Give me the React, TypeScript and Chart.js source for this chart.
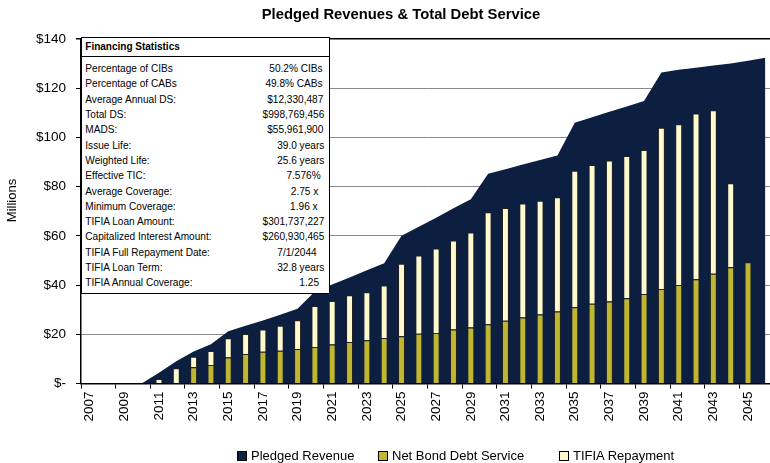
import React, { useEffect, useRef } from 'react';
import { Chart, registerables } from 'chart.js';

Chart.register(...registerables);

const FONT = "'Liberation Sans', Arial, Helvetica, sans-serif";
const NAVY = '#0c1f40';
const OLIVE = '#bfb732';
const CREAM = '#fefacd';
const EDGE = '#222222';

const years = [
  '2007', '2008', '2009', '2010', '2011', '2012', '2013', '2014', '2015', '2016',
  '2017', '2018', '2019', '2020', '2021', '2022', '2023', '2024', '2025', '2026',
  '2027', '2028', '2029', '2030', '2031', '2032', '2033', '2034', '2035', '2036',
  '2037', '2038', '2039', '2040', '2041', '2042', '2043', '2044', '2045', '2046',
];

const pledgedRevenue = [
  0, 0, 0, 0, 4.4, 9.0, 13.0, 15.9, 21.2, 23.5,
  25.6, 27.9, 30.4, 37.4, 40.2, 43.1, 46.0, 48.9, 60.0, 63.7,
  67.4, 71.2, 74.9, 85.2, 87.1, 89.0, 90.8, 92.7, 106.0, 108.2,
  110.4, 112.6, 114.8, 126.4, 127.5, 128.3, 129.2, 130.0, 131.2, 132.4,
];

const netBondDebtService = [
  null, null, null, null, null, null, 6.6, 7.5, 10.6, 12.0,
  12.9, 13.3, 14.0, 14.8, 15.8, 16.9, 17.6, 18.5, 19.2, 20.2,
  20.5, 21.9, 22.8, 24.1, 25.5, 26.8, 28.0, 29.3, 31.0, 32.4,
  33.3, 34.6, 36.4, 38.4, 40.0, 42.4, 44.6, 47.2, 49.3, null,
];

const tifiaRepayment = [
  null, null, null, null, 1.8, 6.2, 4.3, 5.7, 7.8, 8.1,
  9.0, 10.2, 11.7, 16.7, 17.7, 19.0, 19.5, 21.3, 29.5, 31.8,
  34.4, 36.2, 38.6, 45.5, 45.8, 46.3, 46.3, 46.4, 55.5, 56.4,
  57.3, 57.9, 58.5, 65.5, 65.4, 67.3, 66.4, 34.2, null, null,
];

const yAxisMin = 0;
const yAxisMax = 140;
const yAxisStep = 20;

const chartTitle = 'Pledged Revenues & Total Debt Service';
const yAxisTitle = 'Millions';
const legendLabels = ['Pledged Revenue', 'Net Bond Debt Service', 'TIFIA Repayment'];
const legendColors = [NAVY, OLIVE, CREAM];

const statsTitle = 'Financing Statistics';
const statLabels = [
  'Percentage of CIBs',
  'Percentage of CABs',
  'Average Annual DS:',
  'Total DS:',
  'MADS:',
  'Issue Life:',
  'Weighted Life:',
  'Effective TIC:',
  'Average Coverage:',
  'Minimum Coverage:',
  'TIFIA Loan Amount:',
  'Capitalized Interest Amount:',
  'TIFIA Full Repayment Date:',
  'TIFIA Loan Term:',
  'TIFIA Annual Coverage:',
];
const statValues = [
  '50.2% CIBs',
  '49.8% CABs',
  '$12,330,487',
  '$998,769,456',
  '$55,961,900',
  '39.0 years',
  '25.6 years',
  '7.576%',
  '2.75 x',
  '1.96 x',
  '$301,737,227',
  '$260,930,465',
  '7/1/2044',
  '32.8 years',
  '1.25',
];

// presentation only: per-row right inset of the value cell (px)
const statValueInsets = [1.7, 1.7, 1, 0, 1, 0, 0, 3.7, 6, 6.7, 0, 0, 7.7, 0, 5.3];
const legendLefts = [236.5, 377.5, 558.5];

const yTitlePlugin = {
  id: 'yTitleText',
  afterDraw(chart: any) {
    const ctx = chart.ctx;
    ctx.save();
    ctx.translate(12.5, 200.5);
    ctx.rotate(-Math.PI / 2);
    ctx.fillStyle = '#000';
    ctx.font = `13px ${FONT}`;
    ctx.textAlign = 'center';
    ctx.textBaseline = 'middle';
    ctx.fillText(yAxisTitle, 0, 0);
    ctx.restore();
  },
};

export default function App() {
  const canvasRef = useRef<HTMLCanvasElement | null>(null);

  useEffect(() => {
    if (!canvasRef.current) return;
    Chart.defaults.font.family = FONT;
    const chart = new Chart(canvasRef.current, {
      type: 'bar',
      data: {
        labels: years,
        datasets: [
          {
            type: 'line',
            label: legendLabels[0],
            data: pledgedRevenue,
            backgroundColor: NAVY,
            borderColor: NAVY,
            borderWidth: 0,
            pointRadius: 0,
            fill: 'origin',
            tension: 0,
            stack: 'area',
            order: 3,
          } as any,
          {
            type: 'bar',
            label: legendLabels[1],
            data: netBondDebtService,
            backgroundColor: OLIVE,
            borderColor: EDGE,
            borderWidth: 1,
            stack: 'ds',
            order: 1,
            barPercentage: 0.4,
            categoryPercentage: 1,
          },
          {
            type: 'bar',
            label: legendLabels[2],
            data: tifiaRepayment,
            backgroundColor: CREAM,
            borderColor: EDGE,
            borderWidth: 1,
            stack: 'ds',
            order: 1,
            barPercentage: 0.4,
            categoryPercentage: 1,
          },
        ],
      },
      plugins: [yTitlePlugin],
      options: {
        responsive: false,
        animation: false,
        devicePixelRatio: 1,
        layout: { padding: { left: 0, right: 28, top: 39, bottom: 29.5 } },
        plugins: {
          legend: { display: false },
          tooltip: { enabled: false },
          title: { display: false },
        },
        scales: {
          x: {
            stacked: true,
            offset: true,
            ticks: {
              autoSkip: false,
              maxRotation: 90,
              minRotation: 90,
              color: '#000',
              padding: 3,
              font: { size: 13.5, family: FONT },
              callback: (_v: any, i: number) => (i % 2 === 0 ? years[i] : ''),
            },
            grid: {
              offset: true,
              drawOnChartArea: false,
              tickLength: 5,
              tickColor: (ctx: any) => (ctx.index % 2 === 0 ? '#000' : 'rgba(0,0,0,0)'),
            },
            border: { color: '#000', width: 1.5 },
            afterFit: (s: any) => {
              s.height = 50;
            },
          },
          y: {
            stacked: true,
            min: yAxisMin,
            max: yAxisMax,
            ticks: {
              stepSize: yAxisStep,
              color: '#000',
              padding: 10,
              font: { size: 13.5, family: FONT },
              callback: (v: any) => (v === 0 ? '$-' : '$' + v),
            },
            grid: {
              color: (ctx: any) => (ctx.tick && ctx.tick.value === yAxisMax ? '#000' : '#8a8a8a'),
              lineWidth: (ctx: any) => (ctx.tick && ctx.tick.value === yAxisMax ? 1.5 : 1),
              tickLength: 5,
              tickColor: '#000',
            },
            border: { color: '#000', width: 1.5 },
            afterFit: (s: any) => {
              s.width = 81;
            },
          },
        },
      },
    });
    return () => chart.destroy();
  }, []);

  return (
    <div
      style={{
        position: 'absolute',
        left: 0,
        top: 0,
        width: 770,
        height: 463,
        overflow: 'hidden',
        background: '#fff',
        fontFamily: FONT,
        color: '#000',
      }}
    >
      <canvas
        ref={canvasRef}
        width={802}
        height={463}
        style={{ position: 'absolute', left: 0, top: 0, width: 802, height: 463 }}
      />
      <div
        style={{
          position: 'absolute',
          left: 0,
          top: 5.7,
          width: 802,
          textAlign: 'center',
          fontWeight: 'bold',
          fontSize: 14.8,
          lineHeight: '17px',
        }}
      >
        {chartTitle}
      </div>
      <div
        style={{
          position: 'absolute',
          left: 80.5,
          top: 37,
          width: 249.5,
          height: 256.5,
          border: '1.5px solid #000',
          boxSizing: 'border-box',
          background: '#fff',
        }}
      />
      <div
        style={{
          position: 'absolute',
          left: 80.5,
          top: 55.5,
          width: 249.5,
          height: 1,
          background: '#000',
        }}
      />
      <div
        style={{
          position: 'absolute',
          left: 85.3,
          top: 39.7,
          fontWeight: 'bold',
          fontSize: 10,
          lineHeight: '14px',
          whiteSpace: 'nowrap',
        }}
      >
        {statsTitle}
      </div>
      {statLabels.map((lab, i) => (
        <div
          key={lab}
          style={{
            position: 'absolute',
            left: 85.3,
            width: 239,
            top: 61.2 + i * 15.29,
            height: 15,
            lineHeight: '15px',
            fontSize: 10.1,
            display: 'flex',
            justifyContent: 'space-between',
            whiteSpace: 'nowrap',
          }}
        >
          <span>{lab}</span>
          <span style={{ paddingRight: statValueInsets[i] }}>{statValues[i]}</span>
        </div>
      ))}
      {legendLabels.map((lab, i) => (
        <div key={lab}>
          <div
            style={{
              position: 'absolute',
              left: legendLefts[i],
              top: 450.5,
              width: 10,
              height: 10,
              boxSizing: 'border-box',
              border: '1px solid #000',
              background: legendColors[i],
            }}
          />
          <div
            style={{
              position: 'absolute',
              left: legendLefts[i] + 14.5,
              top: 447.5,
              fontSize: 13,
              lineHeight: '16px',
              whiteSpace: 'nowrap',
            }}
          >
            {lab}
          </div>
        </div>
      ))}
    </div>
  );
}
